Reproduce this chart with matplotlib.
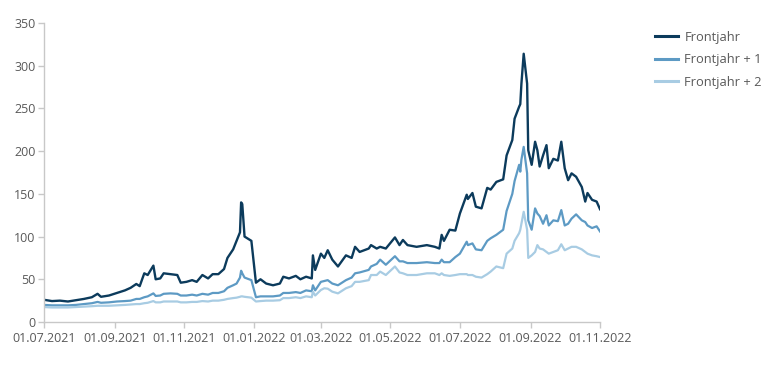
import numpy as np
import pandas as pd
import matplotlib
matplotlib.use("Agg")
import matplotlib.pyplot as plt
import matplotlib.dates as mdates

plt.rcParams['font.family'] = ['Open Sans', 'DejaVu Sans']

# Datum und Werte
datum = ['2021-07-01', '2021-07-08', '2021-07-15', '2021-07-22', '2021-07-29', '2021-08-05', '2021-08-12',
         '2021-08-17', '2021-08-20', '2021-08-27', '2021-09-03', '2021-09-10', '2021-09-15', '2021-09-20',
         '2021-09-23', '2021-09-27', '2021-09-30', '2021-10-05', '2021-10-07', '2021-10-11', '2021-10-14',
         '2021-10-20', '2021-10-26', '2021-10-29', '2021-11-03', '2021-11-08', '2021-11-12', '2021-11-17',
         '2021-11-22', '2021-11-26', '2021-12-01', '2021-12-06', '2021-12-09', '2021-12-14', '2021-12-17',
         '2021-12-20', '2021-12-21', '2021-12-22', '2021-12-24', '2021-12-30', '2022-01-03', '2022-01-07',
         '2022-01-12', '2022-01-18', '2022-01-24', '2022-01-27', '2022-02-01', '2022-02-07', '2022-02-11',
         '2022-02-16', '2022-02-21', '2022-02-22', '2022-02-24', '2022-03-01', '2022-03-04', '2022-03-07',
         '2022-03-11', '2022-03-16', '2022-03-23', '2022-03-28', '2022-03-31', '2022-04-04', '2022-04-12',
         '2022-04-14', '2022-04-19', '2022-04-22', '2022-04-27', '2022-05-05', '2022-05-09', '2022-05-12',
         '2022-05-16', '2022-05-24', '2022-06-02', '2022-06-09', '2022-06-13', '2022-06-15', '2022-06-17',
         '2022-06-22', '2022-06-27', '2022-07-01', '2022-07-07', '2022-07-08', '2022-07-12', '2022-07-15',
         '2022-07-20', '2022-07-25', '2022-07-28', '2022-08-02', '2022-08-08', '2022-08-11', '2022-08-16',
         '2022-08-18', '2022-08-22', '2022-08-23', '2022-08-24', '2022-08-26', '2022-08-29', '2022-08-30',
         '2022-09-02', '2022-09-05', '2022-09-07', '2022-09-09', '2022-09-12', '2022-09-15', '2022-09-17',
         '2022-09-21', '2022-09-25', '2022-09-28', '2022-10-01', '2022-10-04', '2022-10-07', '2022-10-11',
         '2022-10-16', '2022-10-19', '2022-10-21', '2022-10-25', '2022-10-29', '2022-11-01']

frontjahr = [26, 24.5, 25, 24, 25.5, 27, 29, 33, 29.5, 31, 34, 37, 40, 44.5, 42, 57, 55, 66, 50, 51, 57,
             56, 55, 46, 47, 49, 47, 55, 51, 56, 56, 62, 75, 85, 95, 105, 140, 138, 100, 95, 46, 50,
             45, 43, 45, 53, 51, 54, 50, 53, 51, 78, 61, 80, 75, 84, 73, 65, 78, 75, 88, 82, 86,
             90, 86, 88, 86, 99, 90, 96, 90, 88, 90, 88, 86, 102, 95, 108, 107, 127, 149, 144, 151, 135,
             133, 157, 155, 164, 167, 195, 213, 238, 252, 255, 279, 314, 279, 201, 184, 211, 201, 182,
             195, 207, 180, 191, 189, 211, 180, 166, 174, 170, 158, 141, 151, 143, 141, 132]

frontjahr_1 = [20, 19.5, 19.5, 19.5, 20, 21, 22, 23.5, 22.5, 23, 24, 24.5, 25, 27, 27, 29, 30, 33.5, 30.5,
               31, 33, 33.5, 33, 31, 31, 32, 31, 33, 32, 34, 34, 36, 40, 43, 45, 52, 60, 57, 52, 49, 29,
               30, 30, 30, 31, 34, 34, 35, 34, 37, 36, 43, 37, 47, 48, 49, 45, 43, 49, 52, 57, 58, 61,
               65, 68, 73, 67, 77, 71, 71, 69, 69, 70, 69, 69, 73, 70, 70, 76, 80, 94, 90, 92, 85,
               84, 95, 98, 102, 108, 130, 150, 165, 184, 176, 190, 205, 174, 119, 108, 133, 127, 124,
               115, 125, 113, 119, 118, 131, 113, 115, 121, 126, 119, 117, 113, 110, 112, 106]

frontjahr_2 = [17.5, 17, 17, 17, 17.5, 18, 18.5, 19, 19, 19, 19.5, 20, 20.5, 21, 21, 22, 22.5, 24.5, 23,
               23, 24, 24, 24, 23, 23, 23.5, 23.5, 24.5, 24, 25, 25, 26, 27, 28, 28.5, 29.5, 30, 30, 29.5,
               28.5, 24, 24.5, 25, 25, 25.5, 28, 28, 29, 28, 30, 29, 35.5, 31, 37.5, 39.5, 39, 35.5, 33.5,
               39.5, 42, 47, 47, 49, 55, 55, 59, 55, 65, 58, 57, 55, 55, 57, 57, 55, 57, 55, 54, 55,
               56, 56, 55, 55, 53, 52, 56, 59, 65, 63, 80, 86, 95, 104, 108, 115, 129, 108, 75, 78,
               82, 90, 86, 85, 82, 80, 82, 84, 91, 84, 86, 88, 88, 85, 82, 80, 78, 77, 76]

ticks = ['2021-07-01', '2021-09-01', '2021-11-01', '2022-01-01', '2022-03-01',
         '2022-05-01', '2022-07-01', '2022-09-01', '2022-11-01']

x = pd.to_datetime(datum)

fig = plt.figure(figsize=(7.68, 3.72), dpi=100)
ax = fig.add_axes([0.0573, 0.1344, 0.7240, 0.8038])

ax.plot(x, frontjahr, color='#0c3b5c', lw=1.7, label='Frontjahr')
ax.plot(x, frontjahr_1, color='#5d9ac4', lw=1.6, label='Frontjahr + 1')
ax.plot(x, frontjahr_2, color='#a8cce3', lw=1.6, label='Frontjahr + 2')

ax.set_xlim(pd.Timestamp('2021-07-01'), pd.Timestamp('2022-11-01'))
ax.set_ylim(0, 350)
ax.set_yticks(np.arange(0, 351, 50))
ax.set_xticks(pd.to_datetime(ticks))
ax.xaxis.set_major_formatter(mdates.DateFormatter('%d.%m.%Y'))

for s in ['top', 'right']:
    ax.spines[s].set_visible(False)
for s in ['left', 'bottom']:
    ax.spines[s].set_color('#c8c8c8')
    ax.spines[s].set_linewidth(1)
ax.tick_params(axis='both', colors='#c8c8c8', labelcolor='#595959', labelsize=9, length=4, width=1)
ax.tick_params(axis='y', pad=2)

leg = fig.legend(loc='upper left', bbox_to_anchor=(0.838, 0.948), frameon=False, fontsize=9.3,
                 handlelength=1.8, handletextpad=0.45, labelspacing=0.72, labelcolor='#595959')
for line in leg.get_lines():
    line.set_linewidth(2.2)

fig.savefig('out.png', dpi=100)
